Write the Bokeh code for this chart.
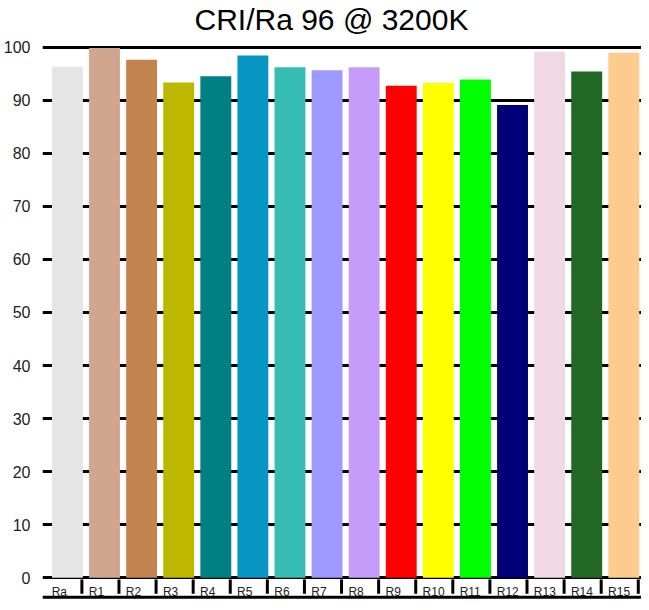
from bokeh.plotting import figure
from bokeh.models import Range1d, FixedTicker, ColumnDataSource, Span
from bokeh.core.properties import value
from bokeh.embed import file_html
from bokeh.resources import INLINE

# ---- data ----
categories = ["Ra", "R1", "R2", "R3", "R4", "R5", "R6", "R7", "R8",
              "R9", "R10", "R11", "R12", "R13", "R14", "R15"]
values = [96.3, 99.8, 97.6, 93.3, 94.5, 98.4, 96.2, 95.6, 96.2,
          92.7, 93.2, 93.9, 89.1, 99.1, 95.4, 98.9]
colors = ["#e5e5e5", "#d1a68f", "#c1834f", "#bdb700", "#018083", "#0795c3",
          "#37bcb4", "#9d99ff", "#c79bfa", "#ff0000", "#ffff00", "#00ff00",
          "#000077", "#f0d8e5", "#206823", "#fecb8f"]
y_ticks = [0, 10, 20, 30, 40, 50, 60, 70, 80, 90, 100]
title_text = "CRI/Ra 96 @ 3200K"

idx = list(range(len(categories)))

p = figure(width=641, height=602, output_backend="svg", toolbar_location=None,
           x_axis_location=None,
           x_range=Range1d(-0.672, 15.477), y_range=Range1d(-4.646, 102.17),
           min_border_left=33, min_border_right=0, min_border_bottom=0,
           min_border_top=0)

p.title.text = title_text
p.title.align = "left"
p.title.text_font = "Liberation Sans"
p.title.text_font_size = "30px"
p.title.text_font_style = "normal"
p.title.text_color = "#000000"
p.title.offset = 152
p.title.standoff = 0

p.outline_line_color = None
p.xgrid.visible = False

p.yaxis.ticker = FixedTicker(ticks=y_ticks, minor_ticks=[])
p.yaxis.axis_line_color = None
p.yaxis.major_tick_line_color = None
p.yaxis.minor_tick_line_color = None
p.yaxis.major_label_text_font = "Liberation Sans"
p.yaxis.major_label_text_font_size = "16px"
p.yaxis.major_label_text_color = "#222222"
p.yaxis.major_label_standoff = 6

p.ygrid.ticker = FixedTicker(ticks=y_ticks, minor_ticks=[])
p.ygrid.grid_line_color = "black"
p.ygrid.grid_line_width = 3
p.ygrid.grid_line_alpha = 1.0

src = ColumnDataSource(dict(x=idx, top=values, color=colors, label=categories,
                            sep=[i + 0.39 for i in idx],
                            lx=[i - 0.425 for i in idx]))

p.vbar(x="x", top="top", bottom=0, width=0.833, fill_color="color",
       line_color=None, source=src)

# label strip under the axis
p.segment(x0="sep", x1="sep", y0=-0.3, y1=-3.0, line_color="black",
          line_width=3, source=src)
p.text(x="lx", y=-2.69, text="label", text_font=value("Liberation Sans"),
       text_font_size="12px", text_color="#222222", text_align="left",
       text_baseline="alphabetic", source=src)
p.add_layout(Span(location=-3.65, dimension="width", line_color="black",
                  line_width=3))

open("out.html", "w").write(file_html(p, INLINE))
